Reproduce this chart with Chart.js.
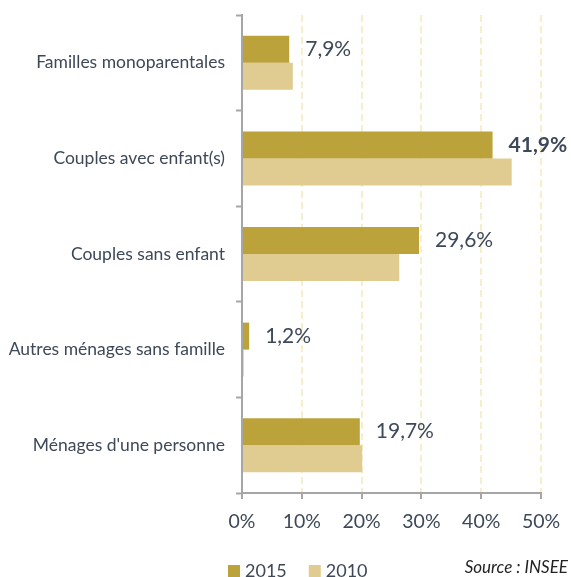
<!DOCTYPE html>
<html>
<head>
<meta charset="utf-8">
<script src="https://cdn.jsdelivr.net/npm/chart.js@4/dist/chart.umd.min.js"></script>
<style>
  html, body { margin: 0; padding: 0; background: #fff; }
  #wrap { width: 571px; height: 577px; position: relative; }
</style>
</head>
<body>
<div id="wrap"><canvas id="c" width="571" height="577"></canvas></div>
<script>
// données (part des ménages, en %)
const categories = ['Familles monoparentales', 'Couples avec enfant(s)', 'Couples sans enfant', 'Autres ménages sans famille', "Ménages d'une personne"];
const values2015 = [7.9, 41.9, 29.6, 1.2, 19.7];
const values2010 = [8.5, 45.1, 26.3, 0.3, 20.1];
const seriesLabels = ['2015', '2010'];
const xTicks = [0, 10, 20, 30, 40, 50];
const sourceText = 'Source : INSEE';

const FONT = 'Lato, "Open Sans", sans-serif';
const TXT = '#3d4858';
const AXIS = '#a6a6a6';

const fmt = v => v.toFixed(1).replace('.', ',') + '%';

// étiquettes de valeur sur la série 2015
const valueLabels = {
  id: 'valueLabels',
  afterDatasetsDraw(chart) {
    const ctx = chart.ctx;
    const meta = chart.getDatasetMeta(0);
    const maxV = Math.max(...values2015);
    ctx.save();
    ctx.fillStyle = TXT;
    ctx.textAlign = 'left';
    ctx.textBaseline = 'middle';
    meta.data.forEach((bar, i) => {
      const v = values2015[i];
      ctx.font = (v === maxV ? 'bold ' : '') + '21px ' + FONT;
      ctx.fillText(fmt(v), bar.x + 16, bar.y);
    });
    ctx.restore();
  }
};

// légende + source en bas
const footer = {
  id: 'footer',
  afterDraw(chart) {
    const ctx = chart.ctx;
    ctx.save();
    ctx.textBaseline = 'middle';
    let x = 228;
    const y = 571;
    chart.data.datasets.forEach(ds => {
      ctx.fillStyle = ds.backgroundColor;
      ctx.fillRect(x, y - 6, 12, 12);
      ctx.fillStyle = TXT;
      ctx.font = '18px ' + FONT;
      ctx.textAlign = 'left';
      ctx.fillText(ds.label, x + 17, y);
      x += 17 + ctx.measureText(ds.label).width + 22;
    });
    ctx.fillStyle = '#222';
    ctx.font = 'italic 17px ' + FONT;
    ctx.textAlign = 'right';
    ctx.fillText(sourceText, 568, 568);
    ctx.restore();
  }
};

new Chart(document.getElementById('c').getContext('2d'), {
  type: 'bar',
  data: {
    labels: categories,
    datasets: [
      { label: seriesLabels[0], data: values2015, backgroundColor: '#bca23b' },
      { label: seriesLabels[1], data: values2010, backgroundColor: '#e0cc90' },
    ],
  },
  options: {
    responsive: false,
    animation: false,
    indexAxis: 'y',
    layout: { padding: { top: 15, right: 30, left: 0, bottom: 0 } },
    datasets: { bar: { categoryPercentage: 0.565, barPercentage: 1.0 } },
    plugins: { legend: { display: false }, tooltip: { enabled: false } },
    scales: {
      x: {
        min: 0, max: 50,
        afterBuildTicks: s => { s.ticks = xTicks.map(v => ({ value: v })); },
        afterFit: s => { s.height = 84; s.paddingLeft = 0; s.paddingRight = 0; },
        ticks: { color: TXT, font: { family: FONT, size: 19.5 }, padding: 11, callback: v => v + '%' },
        grid: { color: '#f6eecd', lineWidth: 2, tickColor: AXIS, tickLength: 6, tickWidth: 2 },
        border: { color: AXIS, width: 2, dash: [7, 4] },
      },
      y: {
        afterFit: s => { s.width = 242; s.paddingTop = 0; s.paddingBottom = 0; },
        ticks: { color: TXT, font: { family: FONT, size: 17.5 }, padding: 11 },
        grid: { drawOnChartArea: false, offset: true, tickColor: AXIS, tickLength: 6, tickWidth: 2 },
        border: { color: AXIS, width: 2 },
      },
    },
  },
  plugins: [valueLabels, footer],
});
</script>
</body>
</html>
